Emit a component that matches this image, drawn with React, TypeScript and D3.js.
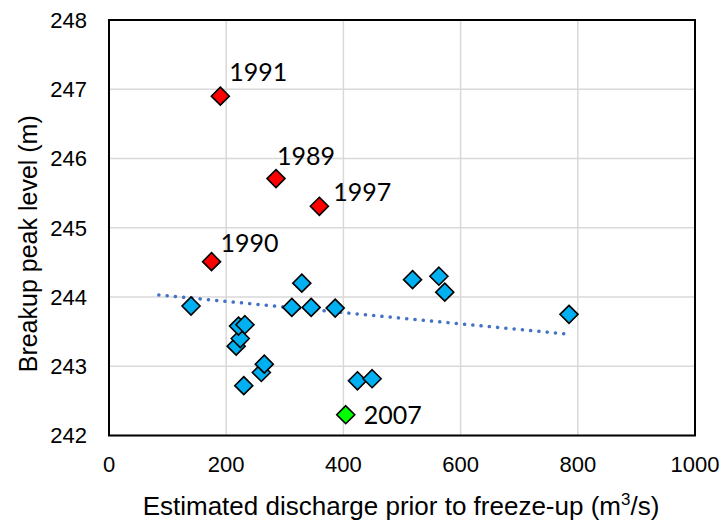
import * as d3 from 'd3';

// Blue points: ordinary years
const blueX = [140, 217, 224, 221, 232, 230, 260, 265, 312, 329, 345, 386, 424, 449, 518, 563, 573, 785];
const blueY = [243.87, 243.29, 243.4, 243.58, 243.6, 242.72, 242.91, 243.03, 243.85, 244.2, 243.85, 243.84, 242.79, 242.82, 244.25, 244.3, 244.07, 243.75];

// Highlighted years
const redYears = ['1991', '1989', '1997', '1990'];
const redX = [190, 285, 359, 175];
const redY = [246.9, 245.71, 245.31, 244.51];

const greenYears = ['2007'];
const greenX = [404];
const greenY = [242.3];

// Linear trendline end points
const trendX = [85, 776];
const trendY = [244.03, 243.47];

const xTicks = [0, 200, 400, 600, 800, 1000];
const yTicks = [242, 243, 244, 245, 246, 247, 248];

const W = 724;
const H = 522;
const plot = { left: 109, right: 695, top: 20, bottom: 435.5 };

const BLUE = '#00b0f0';
const RED = '#ff0000';
const GREEN = '#00ff00';
const TREND = '#4472c4';
const GRID = '#d9d9d9';
const AXIS_FONT = '"Liberation Sans", Arial, sans-serif';
const LABEL_FONT = 'Lato, "Open Sans", sans-serif';

// label offsets relative to the marker centre
const labelOffset: Record<string, [number, number]> = {
  '1991': [9, -15],
  '1989': [1, -14],
  '1997': [14, -5],
  '1990': [9, -10],
  '2007': [18, 9],
};

function Diamond({ cx, cy, fill }: { cx: number; cy: number; fill: string }) {
  const r = 9;
  return (
    <path
      d={`M${cx},${cy - r}L${cx + r},${cy}L${cx},${cy + r}L${cx - r},${cy}Z`}
      fill={fill}
      stroke='#000'
      strokeWidth={1.6}
      strokeLinejoin='miter'
    />
  );
}

export default function App() {
  const x = d3.scaleLinear().domain([0, 1000]).range([plot.left, plot.right]);
  const y = d3.scaleLinear().domain([242, 248]).range([plot.bottom, plot.top]);

  const trendLine = d3
    .line<number>()
    .x((_, i) => x(trendX[i]))
    .y((d) => y(d))(trendY) ?? '';

  const labelled = [
    ...redYears.map((yr, i) => ({ yr, px: x(redX[i]), py: y(redY[i]), fill: RED })),
    ...greenYears.map((yr, i) => ({ yr, px: x(greenX[i]), py: y(greenY[i]), fill: GREEN })),
  ];

  return (
    <svg
      width={W}
      height={H}
      style={{ position: 'absolute', left: 0, top: 0, background: '#fff' }}
    >
      {/* grid */}
      {xTicks.map((t) => (
        <line key={'gx' + t} x1={x(t)} x2={x(t)} y1={plot.top} y2={plot.bottom} stroke={GRID} strokeWidth={1.5} />
      ))}
      {yTicks.map((t) => (
        <line key={'gy' + t} x1={plot.left} x2={plot.right} y1={y(t)} y2={y(t)} stroke={GRID} strokeWidth={1.5} />
      ))}

      {/* plot border */}
      <rect
        x={plot.left}
        y={plot.top}
        width={plot.right - plot.left}
        height={plot.bottom - plot.top}
        fill='none'
        stroke='#000'
        strokeWidth={2}
      />

      {/* tick labels */}
      {xTicks.map((t) => (
        <text key={'tx' + t} x={x(t)} y={472} textAnchor='middle' fontSize={22} fontFamily={AXIS_FONT} fill='#000'>
          {t}
        </text>
      ))}
      {yTicks.map((t) => (
        <text key={'ty' + t} x={87} y={y(t)} dy='0.36em' textAnchor='end' fontSize={22} fontFamily={AXIS_FONT} fill='#000'>
          {t}
        </text>
      ))}

      {/* axis titles */}
      <text x={401} y={515} textAnchor='middle' fontSize={26} fontFamily={AXIS_FONT} fill='#000'>
        Estimated discharge prior to freeze-up (m
        <tspan fontSize={17} dy={-10}>3</tspan>
        <tspan dy={10}>/s)</tspan>
      </text>
      <text
        transform={`translate(37,${(plot.top + plot.bottom) / 2 + 16}) rotate(-90)`}
        textAnchor='middle'
        fontSize={25}
        fontFamily={AXIS_FONT}
        fill='#000'
      >
        Breakup peak level (m)
      </text>

      {/* trendline */}
      <path d={trendLine} fill='none' stroke={TREND} strokeWidth={3.5} strokeDasharray='0.1 8.2' strokeLinecap='round' />

      {/* points */}
      {blueX.map((v, i) => (
        <Diamond key={'b' + i} cx={x(v)} cy={y(blueY[i])} fill={BLUE} />
      ))}
      {labelled.map((p) => (
        <g key={p.yr}>
          <Diamond cx={p.px} cy={p.py} fill={p.fill} />
          <text
            x={p.px + labelOffset[p.yr][0]}
            y={p.py + labelOffset[p.yr][1]}
            fontSize={25}
            fontFamily={LABEL_FONT}
            fill='#000'
          >
            {p.yr}
          </text>
        </g>
      ))}
    </svg>
  );
}
